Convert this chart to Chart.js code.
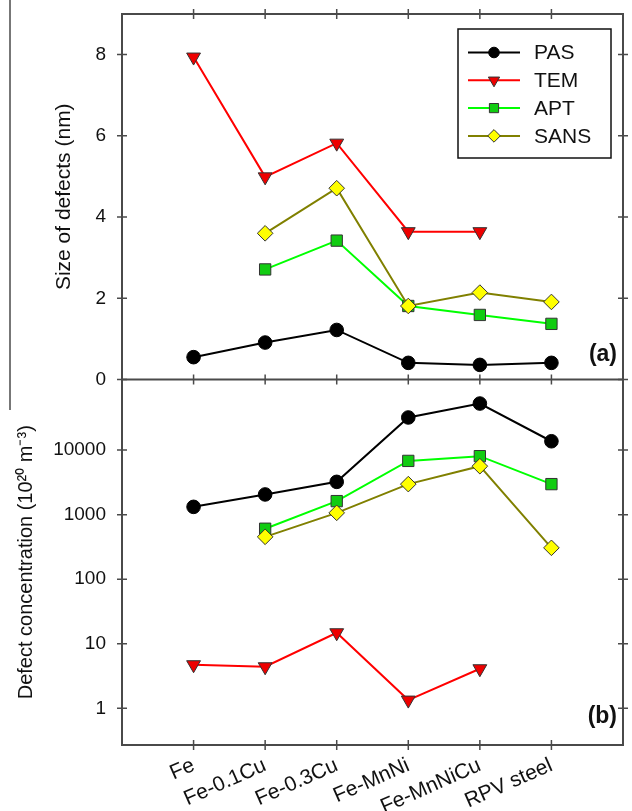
<!DOCTYPE html>
<html lang="en">
<head>
    <meta charset="UTF-8">
    <title>Defect size and concentration</title>
    <script src="https://cdn.jsdelivr.net/npm/chart.js"></script>
    <style>
        body { margin: 0; background: #fff; }
        #wrap { position: relative; width: 632px; height: 811px; }
        #edge { position: absolute; left: 9px; top: 0; width: 2px; height: 410px; background: #777; }
        canvas { position: absolute; left: 0; top: 0; }
    </style>
</head>
<body>
    <div id="wrap">
        <div id="edge"></div>
        <canvas id="chart" width="632" height="811"></canvas>
    </div>

    <script>
        // samples along the x axis
        const categories = ['Fe', 'Fe-0.1Cu', 'Fe-0.3Cu', 'Fe-MnNi', 'Fe-MnNiCu', 'RPV steel'];

        // (a) size of defects, nm
        const sizePAS  = [0.55, 0.91, 1.22, 0.41, 0.36, 0.41];
        const sizeTEM  = [7.94, 4.99, 5.82, 3.64, 3.64, null];
        const sizeAPT  = [null, 2.71, 3.42, 1.81, 1.59, 1.37];
        const sizeSANS = [null, 3.60, 4.71, 1.81, 2.14, 1.91];

        // (b) defect concentration, 10^20 m^-3
        const concPAS  = [1320, 2055, 3220, 32000, 52600, 13700];
        const concTEM  = [4.73, 4.40, 14.8, 1.34, 4.10, null];
        const concAPT  = [null, 605, 1620, 6800, 8050, 2970];
        const concSANS = [null, 453, 1066, 2970, 5630, 306];

        const sizeTicks = [0, 2, 4, 6, 8];
        const concTicks = [1, 10, 100, 1000, 10000];

        const series = [
            { label: 'PAS',  size: sizePAS,  conc: concPAS,  line: '#000000', fill: '#000000', edge: '#000000', shape: 'circle',   radius: 6.8, order: 0 },
            { label: 'TEM',  size: sizeTEM,  conc: concTEM,  line: '#ff0000', fill: '#ee0000', edge: '#333333', shape: 'triangle', radius: 8,   order: 3 },
            { label: 'APT',  size: sizeAPT,  conc: concAPT,  line: '#00ff00', fill: '#11cc11', edge: '#333333', shape: 'rect',     radius: 8,   order: 2 },
            { label: 'SANS', size: sizeSANS, conc: concSANS, line: '#808000', fill: '#ffff00', edge: '#333333', shape: 'rectRot',  radius: 7.8, order: 1 }
        ];

        // empty slot at each end so the samples sit one step in from the frame
        const axisLabels = [''].concat(categories, ['']);
        const pad = arr => [null].concat(arr, [null]);

        const FONT = "'Liberation Sans', Arial, sans-serif";
        Chart.defaults.font.family = FONT;
        Chart.defaults.color = '#111';

        function makeDataset(s, key, axis) {
            return {
                label: s.label,
                data: pad(s[key]),
                yAxisID: axis,
                order: s.order,
                borderColor: s.line,
                borderWidth: 2,
                pointStyle: s.shape,
                rotation: s.shape === 'triangle' ? 180 : 0,
                pointRadius: s.radius,
                pointHoverRadius: s.radius,
                pointBackgroundColor: s.fill,
                pointBorderColor: s.edge,
                pointBorderWidth: 1,
                fill: false,
                tension: 0
            };
        }

        function drawMarker(ctx, shape, x, y, r) {
            ctx.beginPath();
            if (shape === 'circle') {
                ctx.arc(x, y, r, 0, Math.PI * 2);
            } else if (shape === 'triangle') {
                ctx.moveTo(x, y + r);
                ctx.lineTo(x - r * 0.866, y - r / 2);
                ctx.lineTo(x + r * 0.866, y - r / 2);
                ctx.closePath();
            } else if (shape === 'rect') {
                const h = r * Math.SQRT1_2;
                ctx.rect(x - h, y - h, 2 * h, 2 * h);
            } else {
                ctx.moveTo(x, y - r);
                ctx.lineTo(x + r, y);
                ctx.lineTo(x, y + r);
                ctx.lineTo(x - r, y);
                ctx.closePath();
            }
            ctx.fill();
            ctx.stroke();
        }

        // box round both panels, divider, and tick marks crossing every edge
        const framePlugin = {
            id: 'frame',
            beforeDatasetsDraw(chart) {
                const { ctx, chartArea: a, scales } = chart;
                const mid = scales.ySize.bottom;
                ctx.save();
                ctx.strokeStyle = '#4a4a4a';
                ctx.lineWidth = 2;
                ctx.strokeRect(a.left, a.top, a.width, a.height);
                ctx.beginPath();
                ctx.moveTo(a.left, mid);
                ctx.lineTo(a.right, mid);
                ctx.stroke();
                ctx.lineWidth = 1.5;
                ctx.beginPath();
                categories.forEach((c, i) => {
                    const px = scales.x.getPixelForValue(i + 1);
                    [a.top, mid, a.bottom].forEach(py => {
                        ctx.moveTo(px, py - 5);
                        ctx.lineTo(px, py + 5);
                    });
                });
                [scales.ySize, scales.yConc].forEach(s => {
                    s.ticks.forEach(t => {
                        const py = s.getPixelForValue(t.value);
                        [a.left, a.right].forEach(px => {
                            ctx.moveTo(px - 5, py);
                            ctx.lineTo(px + 5, py);
                        });
                    });
                });
                ctx.stroke();
                ctx.restore();
            }
        };

        // legend box inside panel (a), plus the (a)/(b) tags
        const insidePlugin = {
            id: 'inside',
            afterDraw(chart) {
                const { ctx, chartArea: a, scales } = chart;
                const bx = a.right - 165, by = a.top + 15, bw = 153, bh = 129;
                ctx.save();
                ctx.fillStyle = '#fff';
                ctx.fillRect(bx, by, bw, bh);
                ctx.strokeStyle = '#111';
                ctx.lineWidth = 1.5;
                ctx.strokeRect(bx, by, bw, bh);
                series.forEach((s, i) => {
                    const cy = by + 23.5 + i * 27.8;
                    ctx.strokeStyle = s.line;
                    ctx.lineWidth = 2;
                    ctx.beginPath();
                    ctx.moveTo(bx + 10, cy);
                    ctx.lineTo(bx + 62, cy);
                    ctx.stroke();
                    ctx.fillStyle = s.fill;
                    ctx.strokeStyle = s.edge;
                    ctx.lineWidth = 1;
                    drawMarker(ctx, s.shape, bx + 36, cy, s.radius - 1.5);
                    ctx.fillStyle = '#111';
                    ctx.font = '21px ' + FONT;
                    ctx.textAlign = 'left';
                    ctx.textBaseline = 'middle';
                    ctx.fillText(s.label, bx + 76, cy + 1);
                });
                ctx.font = 'bold 23px ' + FONT;
                ctx.textAlign = 'right';
                ctx.fillStyle = '#111';
                ctx.fillText('(a)', a.right - 6, scales.ySize.bottom - 25);
                ctx.fillText('(b)', a.right - 6, a.bottom - 28);
                ctx.restore();
            }
        };

        const noGrid = { display: false, drawTicks: false };

        // keep the frame fixed: no extra room reserved for end labels
        function fixY(s) {
            s.width = 122;
            s.paddingTop = 0;
            s.paddingBottom = 0;
        }

        new Chart(document.getElementById('chart'), {
            type: 'line',
            data: {
                labels: axisLabels,
                datasets: series.map(s => makeDataset(s, 'size', 'ySize'))
                    .concat(series.map(s => makeDataset(s, 'conc', 'yConc')))
            },
            options: {
                responsive: false,
                animation: false,
                layout: { padding: { top: 14, right: 6, left: 0, bottom: 0 } },
                plugins: { legend: { display: false }, tooltip: { enabled: false } },
                scales: {
                    x: {
                        type: 'category',
                        offset: false,
                        grid: noGrid,
                        border: { display: false },
                        ticks: { autoSkip: false, minRotation: 24, maxRotation: 24, padding: 8, font: { size: 21 } },
                        afterFit: s => {
                            s.height = 66;
                            s.paddingLeft = 0;
                            s.paddingRight = 0;
                        }
                    },
                    yConc: {
                        type: 'logarithmic',
                        position: 'left',
                        stack: 'panels',
                        stackWeight: 1,
                        min: 0.27,
                        max: 124000,
                        grid: noGrid,
                        border: { display: false },
                        ticks: { padding: 16, font: { size: 19 }, callback: v => String(v) },
                        afterBuildTicks: s => { s.ticks = concTicks.map(v => ({ value: v })); },
                        title: { display: true, text: 'Defect concentration (10²⁰ m⁻³)', font: { size: 20 }, padding: { top: 14 } },
                        afterFit: fixY
                    },
                    ySize: {
                        type: 'linear',
                        position: 'left',
                        stack: 'panels',
                        stackWeight: 1,
                        min: 0,
                        max: 9,
                        grid: noGrid,
                        border: { display: false },
                        ticks: { padding: 16, font: { size: 19 } },
                        afterBuildTicks: s => { s.ticks = sizeTicks.map(v => ({ value: v })); },
                        title: { display: true, text: 'Size of defects (nm)', font: { size: 21 }, padding: { top: 52 } },
                        afterFit: fixY
                    }
                }
            },
            plugins: [framePlugin, insidePlugin]
        });
    </script>
</body>
</html>
